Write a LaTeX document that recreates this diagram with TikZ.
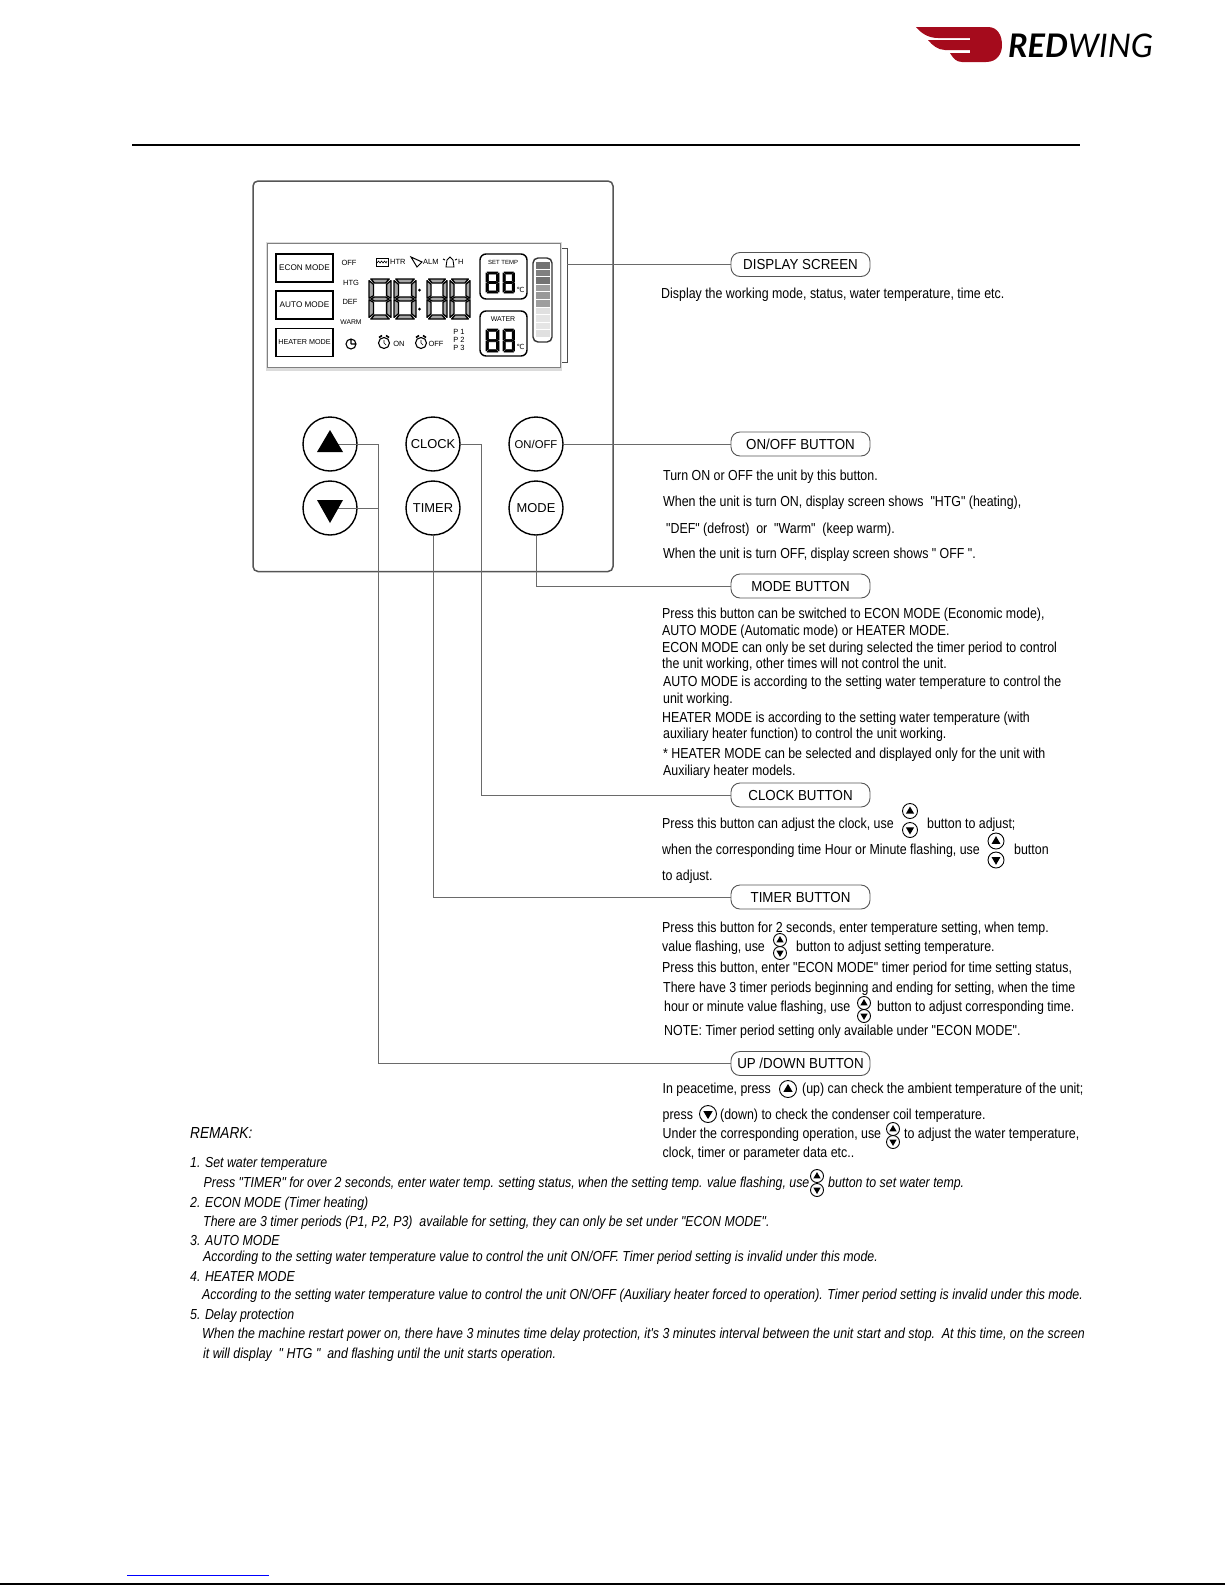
\documentclass[tikz,border=0pt]{standalone}
\usepackage{fontspec}
\setmainfont{Liberation Sans}
\newfontfamily\bodyfont[FakeStretch=0.855]{Liberation Sans}
\newfontfamily\lblfont[FakeStretch=0.92]{Liberation Sans}
\newfontfamily\remfont[FakeStretch=0.852]{Liberation Sans}
\newfontfamily\logofont{Lato}
\newfontfamily\logobold[FakeBold=2]{Lato Bold}
\newfontfamily\symfont{DejaVu Sans}
\usetikzlibrary{calc}
\definecolor{wingred}{HTML}{A50B1C}
\definecolor{panelgray}{HTML}{555555}
\definecolor{leadgray}{HTML}{6A6A6A}
\tikzset{
  bodytxt/.style={anchor=west,inner sep=0pt,text height=14.5pt,text depth=3pt,font=\bodyfont\fontsize{14.5}{16}\selectfont},
  remtxt/.style={anchor=west,inner sep=0pt,text height=14.5pt,text depth=3pt,font=\remfont\itshape\fontsize{14.5}{16}\selectfont},
  lblbox/.style={draw=panelgray,line width=0.9pt,fill=white,rounded corners=9pt,minimum width=139pt,minimum height=24pt,inner sep=0pt,font=\lblfont\fontsize{14.5}{16}\selectfont},
  roundbtn/.style={circle,draw=black,line width=1.4pt,fill=white,minimum size=54pt,inner sep=0pt,font=\fontsize{12.9}{14}\selectfont},
  modebox/.style={draw=black,line width=1.6pt,minimum width=57pt,minimum height=28pt,inner sep=0pt,font=\fontsize{8.2}{10}\selectfont},
  lcdtxt/.style={inner sep=0pt,font=\fontsize{7.5}{8}\selectfont},
  leader/.style={draw=leadgray,line width=0.8pt},
  seg/.style={draw=black,line width=#1,line join=round},
  pics/miniup/.style={code={
    \draw[line width=0.9pt] (0,0) circle (10);
    \fill (0,-6) -- (5.5,3.5) -- (-5.5,3.5) -- cycle;}},
  pics/minidown/.style={code={
    \draw[line width=0.9pt] (0,0) circle (10);
    \fill (0,6) -- (5.5,-3.5) -- (-5.5,-3.5) -- cycle;}},
  pics/alarm/.style={code={
    \draw[line width=1.1pt] (0,1) circle (5.5);
    \draw[line width=1.6pt] (-5,-4.5) -- (-2,-6.5) (5,-4.5) -- (2,-6.5);
    \draw[line width=0.7pt] (0,1) -- (0,-2) (0,1) -- (2,3);}}
}
% one seven segment digit: left, top, width, height, stroke, fill
\newcommand{\segdigit}[6]{%
  \begin{scope}[shift={(#1,#2)},xscale=#3,yscale=#4]
    \draw[seg=#5,fill=#6] (0.08,0) -- (0.92,0) -- (0.75,0.1) -- (0.25,0.1) -- cycle;
    \draw[seg=#5,fill=#6] (0,0.04) -- (0.2,0.13) -- (0.2,0.42) -- (0,0.48) -- cycle;
    \draw[seg=#5,fill=#6] (1,0.04) -- (0.8,0.13) -- (0.8,0.42) -- (1,0.48) -- cycle;
    \draw[seg=#5,fill=#6] (0.08,0.5) -- (0.25,0.45) -- (0.75,0.45) -- (0.92,0.5) -- (0.75,0.55) -- (0.25,0.55) -- cycle;
    \draw[seg=#5,fill=#6] (0,0.52) -- (0.2,0.58) -- (0.2,0.87) -- (0,0.96) -- cycle;
    \draw[seg=#5,fill=#6] (1,0.52) -- (0.8,0.58) -- (0.8,0.87) -- (1,0.96) -- cycle;
    \draw[seg=#5,fill=#6] (0.08,1) -- (0.92,1) -- (0.75,0.9) -- (0.25,0.9) -- cycle;
  \end{scope}}
\begin{document}
\begin{tikzpicture}[x=1pt,y=-1pt]
  \useasboundingbox (0,0) rectangle (1225,1585);

  % Logo
  \fill[wingred] (916,27) -- (988,27) .. controls (998,27) and (1002,36) .. (1002,45)
    .. controls (1002,54) and (997,62) .. (986,62) -- (962,62)
    .. controls (956,62) and (953,58) .. (950,53) -- (970,53) -- (970,50) -- (945,50)
    .. controls (938,50) and (932,45) .. (928,40) -- (970,40) -- (970,38) -- (938,38)
    .. controls (928,38) and (921,33) .. (916,27) -- cycle;
  \node[anchor=west,inner sep=0pt,font=\logofont\itshape\fontsize{32.5}{34}\selectfont] (logo) at (1008,45.5) {\textbf{RED}WING};

  % Rules of the page
  \draw[line width=2pt] (132,144.5) -- (1080,144.5);
  \draw[blue,line width=1pt] (127,1575) -- (269,1575);
  \draw[line width=1.2pt] (0,1584) -- (1225,1584);

  % Panel
  \draw[panelgray,line width=1.5pt,rounded corners=5pt] (253,181) rectangle (613,571.5);

  % Screen
  \fill[black!14] (266,242) rectangle (562,371);
  \draw[black!50,fill=white,line width=0.6pt] (267.5,243.5) rectangle (560,367);
  \draw[black!70,line width=0.7pt] (562,248) -- (567,248) -- (567,362) -- (562,362);
  \node[modebox] (econ) at (304.5,268) {ECON MODE};
  \node[modebox] (auto) at (304.5,305) {AUTO MODE};
  \node[modebox,font=\fontsize{7.2}{10}\selectfont] (heater) at (304.5,342.5) {HEATER MODE};
  \node[lcdtxt] (off) at (349,263) {OFF};
  \node[lcdtxt] (htg) at (351,282.5) {HTG};
  \node[lcdtxt] (def) at (350,302) {DEF};
  \node[lcdtxt,font=\fontsize{6.8}{8}\selectfont] (warm) at (351,322) {WARM};
  \draw[line width=1.1pt] (351,344) circle (5) (351,344) -- (351,339.5) (351,344) -- (356,344);

  % Icons of the top row
  \draw[line width=0.9pt] (376,258) rectangle (388,266);
  \draw[line width=0.6pt] (377,263) -- (378.5,261) -- (380,263) -- (381.5,261) -- (383,263) -- (384.5,261) -- (386,263) -- (387,261);
  \node[lcdtxt,anchor=west] (htr) at (390,262) {HTR};
  \draw[line width=1pt] (411,257) -- (422,262) -- (417,267) -- cycle;
  \node[lcdtxt,anchor=west] (alm) at (423,262) {ALM};
  \draw[line width=0.9pt] (446,267) -- (447,260) -- (450,257) -- (453,260) -- (454,267) -- cycle (443,259) -- (445,260) (457,259) -- (455,260);
  \node[lcdtxt,anchor=west] (heat) at (458,262) {H};

  % Clock digits
  \segdigit{369}{279}{22}{40}{1.3pt}{black!35}
  \segdigit{394}{279}{22}{40}{1.3pt}{black!35}
  \fill (419.5,290) circle (1.5) (419.5,309) circle (1.5);
  \segdigit{427}{279}{20}{40}{1.3pt}{black!35}
  \segdigit{450}{279}{20}{40}{1.3pt}{black!35}

  % Timer row
  \pic at (384,342) {alarm};
  \node[lcdtxt] (timeron) at (399,344) {ON};
  \pic at (421,342) {alarm};
  \node[lcdtxt] (timeroff) at (436,344) {OFF};
  \node[lcdtxt] (pone) at (459,332) {P 1};
  \node[lcdtxt] (ptwo) at (459,340) {P 2};
  \node[lcdtxt] (pthree) at (459,348) {P 3};

  % Temperatures
  \draw[line width=1.4pt,rounded corners=6pt] (480,254) rectangle (527,299);
  \node[lcdtxt,font=\fontsize{6}{8}\selectfont] (settemp) at (503,262) {SET TEMP};
  \segdigit{486}{272}{13}{21}{0.7pt}{black}
  \segdigit{503}{272}{11.5}{21}{0.7pt}{black}
  \node[lcdtxt,font=\symfont\fontsize{7}{9}\selectfont] (degset) at (520.5,290) {℃};
  \draw[line width=1.4pt,rounded corners=6pt] (480,311) rectangle (527,356);
  \node[lcdtxt,font=\fontsize{7}{8}\selectfont] (water) at (503,319) {WATER};
  \segdigit{486}{329}{13}{23}{0.7pt}{black}
  \segdigit{503}{329}{11.5}{23}{0.7pt}{black}
  \node[lcdtxt,font=\symfont\fontsize{7}{9}\selectfont] (degwater) at (520.5,347) {℃};

  % Level bar
  \draw[black!80,line width=1.4pt,rounded corners=5pt] (533,258) rectangle (552,342);
  \foreach \i/\shade in {0/55,1/50,2/55,3/38,4/40,5/38,6/12,7/10,8/10,9/12}
    \fill[black!\shade] (535.5,{262+7.6*\i}) rectangle (549.5,{262+7.6*\i+6.6});

  % Buttons
  \node[roundbtn] (upbtn) at (330,444) {};
  \node[roundbtn] (downbtn) at (330,508) {};
  \node[roundbtn] (clockbtn) at (433,444) {CLOCK};
  \node[roundbtn] (timerbtn) at (433,508) {TIMER};
  \node[roundbtn,font=\fontsize{11.3}{14}\selectfont] (onoffbtn) at (536,444) {ON/OFF};
  \node[roundbtn] (modebtn) at (536,508) {MODE};

  % Labels of the callouts
  \node[lblbox] (displaylbl) at (800.5,264.5) {DISPLAY SCREEN};
  \node[lblbox] (onofflbl) at (800.5,444) {ON/OFF BUTTON};
  \node[lblbox] (modelbl) at (800.5,586) {MODE BUTTON};
  \node[lblbox] (clocklbl) at (800.5,795) {CLOCK BUTTON};
  \node[lblbox] (timerlbl) at (800.5,897) {TIMER BUTTON};
  \node[lblbox] (updownlbl) at (800.5,1063.5) {UP /DOWN BUTTON};

  % Connectors
  \coordinate (screenend) at (567,264.5);
  \coordinate (upturn) at (378,444);
  \coordinate (downturn) at (378,508);
  \coordinate (clockturn) at (481,444);
  \draw[leader] (screenend) -- (displaylbl.west);
  \draw[leader] (onoffbtn.east) -- (onofflbl.west);
  \draw[leader] (modebtn.south) |- (modelbl.west);
  \draw[leader] (clockbtn.east) -- (clockturn) |- (clocklbl.west);
  \draw[leader] (timerbtn.south) |- (timerlbl.west);
  \draw[leader] (upbtn.center) -- (upturn) |- (updownlbl.west);
  \draw[leader] (downbtn.center) -- (downturn);
  \fill (330,430) -- (343,452) -- (317,452) -- cycle;
  \fill (330,523) -- (343,500) -- (317,500) -- cycle;

  % Display screen text
  \node[bodytxt] (disptxt) at (661,293) {Display the working mode, status, water temperature, time etc.};

  % On/off text
  \node[bodytxt] (onoffa) at (663,475) {Turn ON or OFF the unit by this button.};
  \node[bodytxt] (onoffb) at (663,501) {When the unit is turn ON, display screen shows\ \ "HTG" (heating),};
  \node[bodytxt] (onoffc) at (666,527.5) {"DEF" (defrost)\ \ or\ \ "Warm"\ \ (keep warm).};
  \node[bodytxt] (onoffd) at (663,553) {When the unit is turn OFF, display screen shows " OFF ".};

  % Mode text
  \node[bodytxt] (modea) at (662,613) {Press this button can be switched to ECON MODE (Economic mode),};
  \node[bodytxt] (modeb) at (662,630) {AUTO MODE (Automatic mode) or HEATER MODE.};
  \node[bodytxt] (modec) at (662,647) {ECON MODE can only be set during selected the timer period to control};
  \node[bodytxt] (moded) at (662,663) {the unit working, other times will not control the unit.};
  \node[bodytxt] (modee) at (663,681) {AUTO MODE is according to the setting water temperature to control the};
  \node[bodytxt] (modef) at (663,698) {unit working.};
  \node[bodytxt] (modeg) at (662,717) {HEATER MODE is according to the setting water temperature (with};
  \node[bodytxt] (modeh) at (663,733) {auxiliary heater function) to control the unit working.};
  \node[bodytxt] (modei) at (663,753) {* HEATER MODE can be selected and displayed only for the unit with};
  \node[bodytxt] (modej) at (663,770) {Auxiliary heater models.};

  % Clock text
  \node[bodytxt] (clocka) at (662,822.5) {Press this button can adjust the clock, use};
  \pic[scale=0.75] at (910,811) {miniup};
  \pic[scale=0.75] at (910,830) {minidown};
  \node[bodytxt] (clockb) at (927,822.5) {button to adjust;};
  \node[bodytxt] (clockc) at (662,849) {when the corresponding time Hour or Minute flashing, use};
  \pic[scale=0.8] at (996,841) {miniup};
  \pic[scale=0.8] at (996,860) {minidown};
  \node[bodytxt] (clockd) at (1014,849) {button};
  \node[bodytxt] (clocke) at (662,875) {to adjust.};

  % Timer text
  \node[bodytxt] (timera) at (662,926.5) {Press this button for 2 seconds, enter temperature setting, when temp.};
  \node[bodytxt] (timerb) at (662,946) {value flashing, use};
  \pic[scale=0.65] at (780,940) {miniup};
  \pic[scale=0.65] at (780,953) {minidown};
  \node[bodytxt] (timerc) at (796,946) {button to adjust setting temperature.};
  \node[bodytxt] (timerd) at (662,967) {Press this button, enter "ECON MODE" timer period for time setting status,};
  \node[bodytxt] (timere) at (663,987) {There have 3 timer periods beginning and ending for setting, when the time};
  \node[bodytxt] (timerf) at (664,1006) {hour or minute value flashing, use};
  \pic[scale=0.65] at (864,1003) {miniup};
  \pic[scale=0.65] at (864,1016) {minidown};
  \node[bodytxt] (timerg) at (877,1006) {button to adjust corresponding time.};
  \node[bodytxt] (timerh) at (664,1030) {NOTE: Timer period setting only available under "ECON MODE".};

  % Up and down text
  \node[bodytxt] (updowna) at (662.5,1088) {In peacetime, press};
  \pic[scale=0.85] at (788,1089) {miniup};
  \node[bodytxt] (updownb) at (802,1088) {(up) can check the ambient temperature of the unit;};
  \node[bodytxt] (updownc) at (662.5,1114) {press};
  \pic[scale=0.85] at (708,1114) {minidown};
  \node[bodytxt] (updownd) at (720,1114) {(down) to check the condenser coil temperature.};
  \node[bodytxt] (updowne) at (662.5,1133) {Under the corresponding operation, use};
  \pic[scale=0.65] at (893,1129) {miniup};
  \pic[scale=0.65] at (893,1142) {minidown};
  \node[bodytxt] (updownf) at (904,1133) {to adjust the water temperature,};
  \node[bodytxt] (updowng) at (662.5,1152) {clock, timer or parameter data etc..};

  % Remarks
  \node[remtxt,font=\remfont\itshape\fontsize{16}{18}\selectfont] (remark) at (190,1133) {REMARK:};
  \node[remtxt] (rema) at (190,1162) {1. Set water temperature};
  \node[remtxt] (remb) at (203.5,1182) {Press "TIMER" for over 2 seconds, enter water temp. setting status, when the setting temp. value flashing, use};
  \pic[scale=0.65] at (817,1176) {miniup};
  \pic[scale=0.65] at (817,1190) {minidown};
  \node[remtxt] (remc) at (828,1182) {button to set water temp.};
  \node[remtxt] (remd) at (190,1202) {2. ECON MODE (Timer heating)};
  \node[remtxt] (reme) at (203,1221) {There are 3 timer periods (P1, P2, P3)\ \ available for setting, they can only be set under "ECON MODE".};
  \node[remtxt] (remf) at (190,1240) {3. AUTO MODE};
  \node[remtxt] (remg) at (203,1256) {According to the setting water temperature value to control the unit ON/OFF. Timer period setting is invalid under this mode.};
  \node[remtxt] (remh) at (190,1276) {4. HEATER MODE};
  \node[remtxt] (remi) at (202,1294) {According to the setting water temperature value to control the unit ON/OFF (Auxiliary heater forced to operation). Timer period setting is invalid under this mode.};
  \node[remtxt] (remj) at (190,1314) {5. Delay protection};
  \node[remtxt] (remk) at (202,1333) {When the machine restart power on, there have 3 minutes time delay protection, it's 3 minutes interval between the unit start and stop.\ \ At this time, on the screen};
  \node[remtxt] (reml) at (203,1353) {it will display\ \ " HTG "\ \ and flashing until the unit starts operation.};
\end{tikzpicture}
\end{document}
